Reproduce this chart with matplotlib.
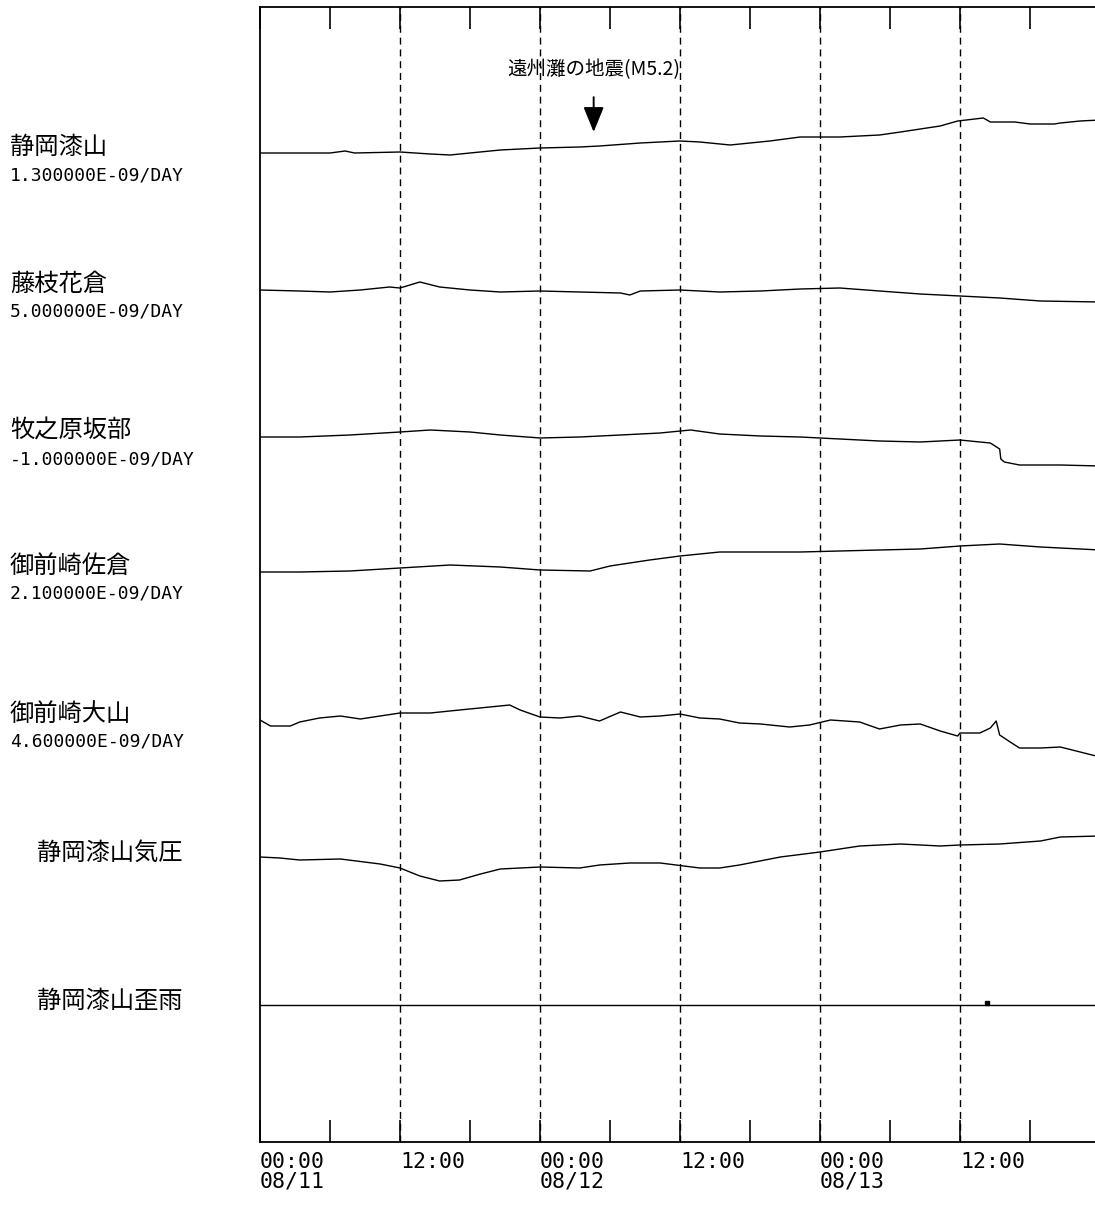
import numpy as np
import matplotlib.pyplot as plt
from matplotlib.transforms import blended_transform_factory

plt.rcParams['font.family'] = ['Noto Sans CJK JP', 'DejaVu Sans']

# station names and reduction rates shown at the left of each trace
names = ['静岡漆山', '藤枝花倉', '牧之原坂部', '御前崎佐倉', '御前崎大山', '静岡漆山気圧', '静岡漆山歪雨']
rates = ['1.300000E-09/DAY', '5.000000E-09/DAY', '-1.000000E-09/DAY',
         '2.100000E-09/DAY', '4.600000E-09/DAY', None, None]

# hours from 08/11 00:00, deflection (upward positive, plot units)
urushiyama_h = [0, 6, 7.3, 8.1, 12, 14.6, 16.3, 18, 20.6, 24, 27.4, 29.1, 32.6, 36, 37.7, 40.3, 42,
                43.7, 46.3, 49.7, 53.1, 54.9, 56.6, 58.3, 59.8, 62, 62.6, 64.7, 66, 68.1, 68.6, 70.3, 72]
urushiyama_v = [0, 0, 2, 0, 1, -1, -2, 0, 3, 5, 6, 7, 10, 12, 11, 8, 10,
                12, 16, 16, 18, 21, 24, 27, 32, 35, 31, 31, 29, 29, 30, 32, 33]

hanakura_h = [0, 3.4, 6, 8.6, 11.1, 12, 13.7, 15.4, 18, 20.6, 24, 27.4, 30.9, 31.7, 32.6, 36,
              37.7, 39.4, 42.9, 46.3, 49.7, 53.1, 56.6, 60, 63.4, 66.9, 72]
hanakura_v = [0, -1, -2, 0, 3, 2, 8, 3, 0, -2, -1, -2, -3, -5, -1, 0,
              -1, -2, -1, 1, 2, -1, -4, -6, -8, -11, -12]

sakabe_h = [0, 3.4, 7.7, 12, 14.6, 18, 20.6, 24, 27.4, 30.9, 34.3, 36.9, 39.4, 42.9, 46.3, 49.7,
            53.1, 56.6, 60, 61.7, 62.6, 63.0, 63.4, 63.5, 63.8, 65.1, 68.6, 72]
sakabe_v = [0, 0, 2, 5, 7, 5, 2, -1, 0, 2, 4, 7, 3, 1, 0, -2,
            -4, -5, -3, -5, -6, -9, -12, -22, -25, -28, -28, -29]

sakura_h = [0, 3.4, 7.7, 12, 16.3, 20.6, 24, 28.3, 30, 33.4, 36, 39.4, 42.9, 46.3, 49.7,
            53.1, 56.6, 60, 63.4, 66.9, 72]
sakura_v = [0, 0, 1, 4, 7, 5, 2, 1, 6, 12, 16, 20, 20, 20, 21,
            22, 23, 26, 28, 25, 22]

oyama_h = [0, 0.9, 2.6, 3.4, 5.1, 6.9, 8.6, 10.3, 12, 14.6, 17.1, 19.7, 21.4, 22.3, 24, 25.7,
           27.4, 29.1, 30.9, 32.6, 34.3, 36, 37.7, 39.4, 41.1, 42.9, 45.4, 47.1, 48.9, 51.4,
           53.1, 54.9, 56.6, 58.3, 59.8, 60, 61.7, 62.6, 63.1, 63.4, 64.3, 65.1, 66.9, 68.6,
           70.3, 72]
oyama_v = [0, -6, -6, -2, 2, 4, 1, 4, 7, 7, 10, 13, 15, 10, 3, 2,
           4, -1, 8, 3, 4, 6, 2, 1, -3, -4, -7, -5, 0, -2,
           -9, -5, -4, -11, -16, -13, -13, -8, -1, -15, -22, -28, -28, -27,
           -32, -37]

pressure_h = [0, 1.7, 3.4, 6.9, 10.3, 12, 13.7, 15.4, 17.1, 18.9, 20.6, 24, 27.4, 29.1, 31.7,
              34.3, 37.7, 39.4, 41.1, 44.6, 48, 51.4, 54.9, 58.3, 60, 63.4, 66.9, 68.6, 72]
pressure_v = [0, -1, -3, -2, -7, -11, -19, -24, -23, -17, -12, -10, -11, -8, -6,
              -6, -11, -11, -8, 0, 5, 11, 13, 11, 12, 13, 16, 20, 21]

rain_h = [0, 72]
rain_v = [0, 0]
rain_spike_h = [62.3]
rain_spike_v = [2]

quake_hour = 28.6
quake_label = '遠州灘の地震(M5.2)'

tick_labels = ['00:00\n08/11', '', '12:00', '', '00:00\n08/12', '', '12:00', '',
               '00:00\n08/13', '', '12:00', '', '']

traces = [(urushiyama_h, urushiyama_v), (hanakura_h, hanakura_v), (sakabe_h, sakabe_v),
          (sakura_h, sakura_v), (oyama_h, oyama_v), (pressure_h, pressure_v), (rain_h, rain_v)]
baselines = [153, 290, 437, 572, 720, 857, 1005]

fig = plt.figure(figsize=(10.95, 12.05), dpi=100)
W, H = 1095, 1205
ax = fig.add_axes([260 / W, (H - 1142) / H, 840 / W, (1142 - 7) / H])
ax.set_xlim(0, 72)
ax.set_ylim(1142, 7)

for (h, v), base in zip(traces, baselines):
    ax.plot(h, base - np.array(v), color='black', lw=1.0)
ax.plot(rain_spike_h, baselines[6] - np.array(rain_spike_v), 's', color='black', ms=2.5)

for hr in range(12, 72, 12):
    ax.axvline(hr, color='black', lw=1.0, dashes=(5, 3.5))

ax.set_xticks(np.arange(0, 73, 6))
ax.set_xticklabels(tick_labels, ha='left', family='DejaVu Sans Mono', fontsize=15.5,
                   linespacing=1.0, va='top')
ax.set_yticks([])
ax.tick_params(axis='x', direction='in', length=16, width=1.2, top=True, bottom=True, pad=7)
for sp in ax.spines.values():
    sp.set_linewidth(1.3)

ax.annotate(quake_label, xy=(quake_hour, 132), xytext=(quake_hour, 70),
            ha='center', va='center', fontsize=14,
            arrowprops=dict(arrowstyle='-|>,head_length=1.1,head_width=0.45', color='black',
                            lw=1.4, shrinkA=10, shrinkB=0))

tr = blended_transform_factory(fig.transFigure, ax.transData)
for i, (name, rate) in enumerate(zip(names, rates)):
    base = baselines[i]
    if rate is None:
        fig.text(37 / W, base - 4, name, transform=tr, fontsize=17.5, va='center', ha='left')
    else:
        fig.text(10 / W, base - 6, name, transform=tr, fontsize=17.5, va='center', ha='left')
        fig.text(10 / W, base + 22, rate, transform=tr, fontsize=13, va='center', ha='left',
                 family='DejaVu Sans Mono')

fig.savefig('out.png', dpi=100)
